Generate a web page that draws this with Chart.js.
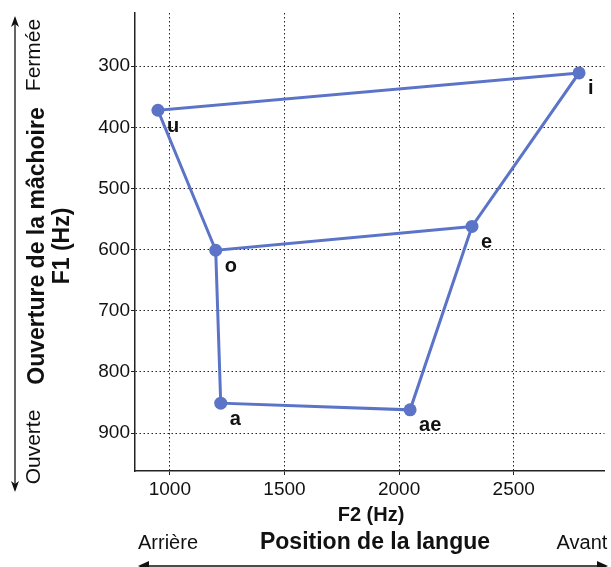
<!DOCTYPE html>
<html><head><meta charset="utf-8">
<script src="https://cdn.jsdelivr.net/npm/chart.js@4"></script>
<style>html,body{margin:0;padding:0;background:#fff}#wrap{width:611px;height:567px;position:relative}</style>
</head><body><div id="wrap"><canvas id="c" width="611" height="567"></canvas></div>
<script>
const vowels = ['i','u','o','a','ae','e'];
const f2Values = [2785, 948, 1200, 1222, 2048, 2318];
const f1Values = [311, 372, 601, 851, 862, 562];
const pathOrder = ['o','u','i','e','ae','a','o','e'];
const xTicks = [1000, 1500, 2000, 2500];
const yTicks = [300, 400, 500, 600, 700, 800, 900];

const blue = '#5b74c8';
const pts = vowels.map((v,i)=>({x:f2Values[i], y:f1Values[i]}));
const pathPts = pathOrder.map(v=>pts[vowels.indexOf(v)]);
const FF = '"Liberation Sans", Arial, sans-serif';
Chart.defaults.font.family = FF;
Chart.defaults.color = '#111';

const annot = {
  id:'annot',
  afterDatasetsDraw(chart){
    const ctx = chart.ctx;
    const meta = chart.getDatasetMeta(1);
    ctx.save();
    ctx.fillStyle = '#111';
    ctx.font = 'bold 20px ' + FF;
    ctx.textAlign = 'left'; ctx.textBaseline = 'middle';
    meta.data.forEach((el,i)=>{ ctx.fillText(vowels[i], el.x+9, el.y+16); });
    ctx.restore();
  },
  afterDraw(chart){
    const ctx = chart.ctx;
    ctx.save();
    ctx.fillStyle = '#111';
    // y titles
    ctx.save();
    ctx.translate(38, 246); ctx.rotate(-Math.PI/2);
    ctx.textAlign='center'; ctx.textBaseline='middle';
    ctx.font = 'bold 23px ' + FF;
    ctx.fillText('Ouverture de la mâchoire', 0, 0);
    ctx.fillText('F1 (Hz)', 0, 25);
    ctx.font = '21px ' + FF;
    ctx.fillText('Fermée', 191, -4);
    ctx.fillText('Ouverte', -201, -4);
    ctx.restore();
    // vertical arrow
    ctx.strokeStyle='#111'; ctx.lineWidth=1.3;
    ctx.beginPath(); ctx.moveTo(15,18); ctx.lineTo(15,490); ctx.stroke();
    ctx.fillStyle='#111';
    ctx.beginPath(); ctx.moveTo(11,27); ctx.lineTo(15,16); ctx.lineTo(19,27); ctx.lineTo(15,24); ctx.closePath(); ctx.fill();
    ctx.beginPath(); ctx.moveTo(11,481); ctx.lineTo(15,492); ctx.lineTo(19,481); ctx.lineTo(15,484); ctx.closePath(); ctx.fill();
    // x titles
    ctx.textAlign='center'; ctx.textBaseline='middle';
    ctx.font = 'bold 20px ' + FF;
    ctx.fillText('F2 (Hz)', 371, 515);
    ctx.font = 'bold 23px ' + FF;
    ctx.fillText('Position de la langue', 375, 543);
    ctx.font = '20px ' + FF;
    ctx.fillText('Arrière', 168, 543);
    ctx.fillText('Avant', 582, 543);
    // horizontal arrow
    ctx.beginPath(); ctx.moveTo(140,566); ctx.lineTo(606,566); ctx.stroke();
    ctx.beginPath(); ctx.moveTo(149,561); ctx.lineTo(138,566); ctx.lineTo(149,571); ctx.closePath(); ctx.fill();
    ctx.beginPath(); ctx.moveTo(597,561); ctx.lineTo(608,566); ctx.lineTo(597,571); ctx.closePath(); ctx.fill();
    ctx.restore();
  }
};

new Chart(document.getElementById('c'), {
  type:'scatter',
  data:{datasets:[
    {data:pathPts, showLine:true, borderColor:blue, borderWidth:3, pointRadius:0, pointHoverRadius:0, backgroundColor:blue},
    {data:pts, showLine:false, pointRadius:6.5, pointBackgroundColor:blue, pointBorderWidth:0, backgroundColor:blue}
  ]},
  options:{
    responsive:false, animation:false, devicePixelRatio:1,
    layout:{padding:{top:13,right:5,left:0,bottom:0}},
    plugins:{legend:{display:false}, tooltip:{enabled:false}},
    scales:{
      x:{type:'linear', min:848, max:2896,
        afterBuildTicks(s){ s.ticks = xTicks.map(v=>({value:v})); },
        afterFit(s){ s.height = 96; },
        ticks:{font:{size:19}, color:'#111', padding:3, maxRotation:0, callback:v=>String(v)},
        grid:{color:'#222', lineWidth:1, tickLength:4, drawTicks:true},
        border:{display:true, color:'#222', width:1.5, dash:[1.5,2.5]}
      },
      y:{type:'linear', reverse:true, min:213, max:962,
        afterBuildTicks(s){ s.ticks = yTicks.map(v=>({value:v})); },
        afterFit(s){ s.width = 135; },
        ticks:{font:{size:19}, color:'#111', padding:1, callback:v=>String(v)},
        grid:{color:'#222', lineWidth:1, tickLength:4},
        border:{display:true, color:'#222', width:1.5, dash:[1.5,2.5]}
      }
    }
  },
  plugins:[annot]
});
</script></body></html>
